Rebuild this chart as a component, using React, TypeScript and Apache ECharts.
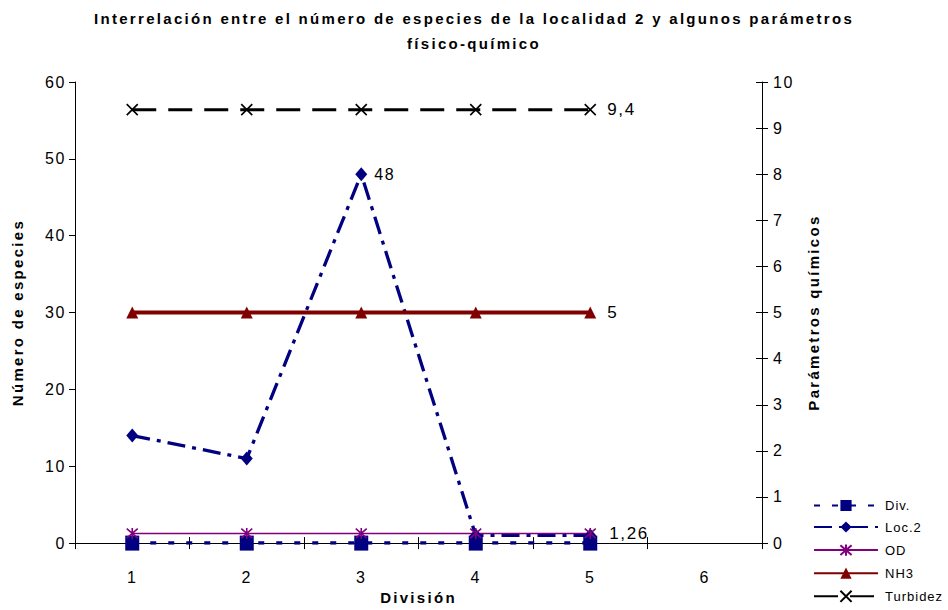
import React, { useEffect, useRef } from "react";
import * as echarts from "echarts";

const categories = ["1", "2", "3", "4", "5", "6"];
const divValues = [0, 0, 0, 0, 0];
const loc2Values = [14, 11, 48, 1, 1];
const odValues = [1.26, 1.26, 1.26, 1.26, 1.26];
const nh3Values = [5, 5, 5, 5, 5];
const turbValues = [9.4, 9.4, 9.4, 9.4, 9.4];
const leftTicks = { min: 0, max: 60, interval: 10 };
const rightTicks = { min: 0, max: 10, interval: 1 };

const FONT = "Liberation Sans, Arial, sans-serif";
const NAVY = "#000080";
const PURPLE = "#800080";
const MAROON = "#800000";

const fmt = (v: number) => String(v).replace(".", ",");

const lastLabel = (idx: number, size: number, dx: number) => ({
  show: true,
  position: "right" as const,
  distance: dx,
  fontFamily: FONT,
  fontSize: size,
  color: "#000",
  formatter: (p: any) => (p.dataIndex === idx ? fmt(p.value) : ""),
});

const css = `
.xlchart text { letter-spacing: 1.6px; }
.xlchart text[style*="bold"] { letter-spacing: 2.3px; }
.xlchart text[style*="13px"] { letter-spacing: 1px; }
`;

export default function App() {
  const ref = useRef<HTMLDivElement>(null);
  useEffect(() => {
    if (!ref.current) return;
    const chart = echarts.init(ref.current, undefined, { renderer: "svg" });
    chart.setOption({
      animation: false,
      backgroundColor: "#fff",
      title: {
        text: "Interrelación entre el número de especies de la localidad 2 y algunos parámetros\nfísico-químico",
        left: "center",
        top: 1,
        textStyle: {
          fontFamily: FONT,
          fontSize: 15,
          fontWeight: "bold",
          lineHeight: 25,
          color: "#000",
        },
      },
      legend: {
        orient: "vertical",
        left: 813,
        top: 499,
        padding: 0,
        height: 111,
        itemWidth: 64,
        itemHeight: 14,
        itemGap: 8.5,
        textStyle: { fontFamily: FONT, fontSize: 13, color: "#000", padding: [0, 0, 0, 2] },
        data: ["Div.", "Loc.2", "OD", "NH3", "Turbidez"],
      },
      grid: { left: 75, right: 186, top: 82, bottom: 65 },
      xAxis: [
        {
          type: "category",
          data: categories,
          boundaryGap: true,
          axisLine: { lineStyle: { color: "#000", width: 1 } },
          axisTick: { show: true, length: 6, lineStyle: { color: "#000" } },
          axisLabel: { fontFamily: FONT, fontSize: 16, color: "#000", margin: 26 },
          name: "División",
          nameLocation: "middle",
          nameGap: 36,
          nameTextStyle: { fontFamily: FONT, fontSize: 15, fontWeight: "bold", color: "#000" },
        },
        {
          type: "category",
          data: categories,
          position: "bottom",
          boundaryGap: true,
          axisLine: { show: false },
          axisTick: { show: true, inside: true, length: 6, lineStyle: { color: "#000" } },
          axisLabel: { show: false },
        },
      ],
      yAxis: [
        {
          type: "value",
          ...leftTicks,
          position: "left",
          axisLine: { show: true, lineStyle: { color: "#000" } },
          axisTick: { show: true, length: 6, lineStyle: { color: "#000" } },
          splitLine: { show: false },
          axisLabel: { fontFamily: FONT, fontSize: 16, color: "#000", margin: 9 },
          name: "Número de especies",
          nameLocation: "middle",
          nameGap: 50,
          nameRotate: 90,
          nameTextStyle: { fontFamily: FONT, fontSize: 15, fontWeight: "bold", color: "#000" },
        },
        {
          type: "value",
          ...rightTicks,
          position: "right",
          axisLine: { show: true, lineStyle: { color: "#000" } },
          axisTick: { show: true, length: 6, lineStyle: { color: "#000" } },
          splitLine: { show: false },
          axisLabel: { fontFamily: FONT, fontSize: 16, color: "#000", margin: 11 },
          name: "Parámetros químicos",
          nameLocation: "middle",
          nameGap: 44,
          nameRotate: 90,
          nameTextStyle: { fontFamily: FONT, fontSize: 15, fontWeight: "bold", color: "#000" },
        },
        {
          type: "value",
          ...rightTicks,
          position: "right",
          axisLine: { show: false },
          axisTick: { show: true, inside: true, length: 6, lineStyle: { color: "#000" } },
          splitLine: { show: false },
          axisLabel: { show: false },
        },
      ],
      series: [
        {
          name: "Div.",
          type: "line",
          yAxisIndex: 1,
          data: divValues,
          symbol: "rect",
          symbolSize: [14, 15],
          itemStyle: { color: NAVY },
          lineStyle: { color: NAVY, width: 3.5, type: [6, 12] },
        },
        {
          name: "Loc.2",
          type: "line",
          yAxisIndex: 0,
          data: loc2Values,
          symbol: "diamond",
          symbolSize: [12, 14],
          itemStyle: { color: NAVY },
          lineStyle: { color: NAVY, width: 3.3, type: [18, 7, 4, 7] },
          label: lastLabel(2, 16, 7),
        },
        {
          name: "OD",
          type: "line",
          yAxisIndex: 0,
          data: odValues,
          symbol: "path://M5,0L5,10M0.7,0.7L9.3,9.3M9.3,0.7L0.7,9.3",
          symbolSize: 11,
          itemStyle: { color: "none", borderColor: PURPLE, borderWidth: 1.6 },
          lineStyle: { color: PURPLE, width: 1.5 },
          label: lastLabel(4, 17, 11),
        },
        {
          name: "NH3",
          type: "line",
          yAxisIndex: 1,
          data: nh3Values,
          symbol: "triangle",
          symbolSize: 12,
          itemStyle: { color: MAROON },
          lineStyle: { color: MAROON, width: 4 },
          label: lastLabel(4, 17, 11),
        },
        {
          name: "Turbidez",
          type: "line",
          yAxisIndex: 1,
          data: turbValues,
          symbol: "path://M0,0L10,10M10,0L0,10",
          symbolSize: 11,
          itemStyle: { color: "none", borderColor: "#000", borderWidth: 1.6 },
          lineStyle: { color: "#000", width: 3, type: [24, 12] },
          label: lastLabel(4, 17, 9),
        },
      ],
    });
    return () => chart.dispose();
  }, []);
  return (
    <>
      <style>{css}</style>
      <div
        ref={ref}
        className="xlchart"
        style={{ position: "absolute", left: 0, top: 0, width: 948, height: 610 }}
      />
    </>
  );
}
